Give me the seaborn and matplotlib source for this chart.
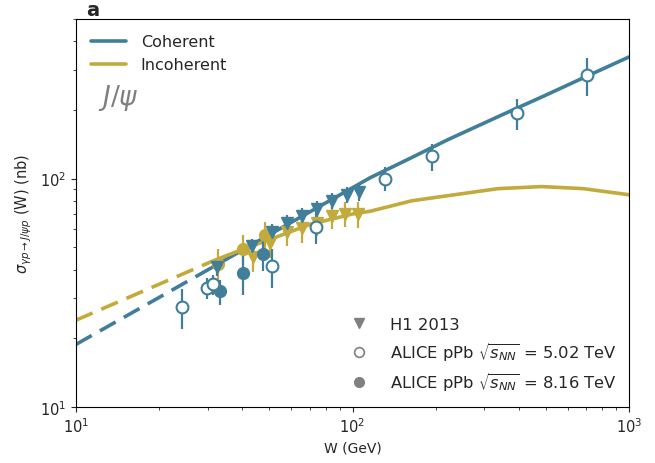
import numpy as np
import pandas as pd
import matplotlib
matplotlib.use("Agg")
import matplotlib.pyplot as plt
from matplotlib.lines import Line2D
import seaborn as sns

# ---------------- data ----------------
# model curves (W in GeV, sigma in nb)
coh_W = [10, 20, 31, 50, 75, 116, 160, 221, 350, 500, 700, 1000]
coh_sig = [18.8, 30.2, 40.8, 56.8, 74.9, 101, 122, 148, 191, 232, 280, 341]
inc_W = [10, 20, 31, 40, 50, 70, 100, 116, 164, 336, 484, 682, 1000]
inc_sig = [24, 34.5, 43.4, 49, 54, 63, 70, 72, 80, 90.4, 92.3, 90.4, 85]
W_split = 31  # dashed below, solid above

# H1 2013 coherent (elastic)
h1c_W = [32.4, 43.4, 51.2, 57.9, 65.6, 74.5, 84.4, 95.5, 106]
h1c_sig = [40.9, 50.5, 58.5, 64.2, 68.9, 73.9, 80.2, 85.1, 87.7]
h1c_err = [3.5, 4.0, 4.5, 5.0, 5.5, 6.0, 6.5, 7.0, 7.5]
# H1 2013 incoherent (dissociative)
h1i_W = [43.6, 50.3, 57.9, 65.6, 74.5, 84.4, 94.0, 105]
h1i_sig = [45.6, 52.0, 58.1, 60.5, 64.2, 68.9, 70.3, 69.7]
h1i_err = [6.5, 7.0, 7.5, 8.0, 8.0, 8.5, 9.0, 9.0]
# ALICE pPb 5.02 TeV (open circles)
a5_W = [24.2, 29.8, 31.2, 51.2, 73.8, 131, 194, 394, 705]
a5_sig = [27.4, 33.1, 34.4, 41.3, 61.7, 100, 125, 194, 284]
a5_err = [5.5, 3.5, 3.5, 8.0, 10.0, 12.0, 17.0, 30.0, 55.0]
# ALICE pPb 8.16 TeV coherent (filled circles)
a8c_W = [33.2, 40.2, 47.4]
a8c_sig = [32.1, 38.5, 46.6]
a8c_err = [4.0, 7.5, 7.0]
# ALICE pPb 8.16 TeV incoherent (filled circles)
a8i_W = [32.7, 40.2, 48.3]
a8i_sig = [42.1, 49.4, 56.4]
a8i_err = [7.0, 7.5, 8.0]

legend_curves = ["Coherent", "Incoherent"]
legend_data = ["H1 2013",
               r"ALICE pPb $\sqrt{s_{NN}}$ = 5.02 TeV",
               r"ALICE pPb $\sqrt{s_{NN}}$ = 8.16 TeV"]

# ---------------- style ----------------
sns.set_style("ticks")
plt.rcParams['font.family'] = ['DejaVu Sans']
C_COH = "#417e9a"
C_INC = "#c2aa3c"
GREY = "#808080"

fig = plt.figure(figsize=(6.55, 4.64), dpi=100)
ax = fig.add_axes([76/655, 1-408/464, (629-76)/655, (408-20)/464])

def split(W, s):
    W = np.asarray(W, float); s = np.asarray(s, float)
    lo = W <= W_split
    hi = W >= W_split
    return (pd.DataFrame({"W": W[lo], "s": s[lo]}),
            pd.DataFrame({"W": W[hi], "s": s[hi]}))

for W, s, c in [(coh_W, coh_sig, C_COH), (inc_W, inc_sig, C_INC)]:
    lo, hi = split(W, s)
    sns.lineplot(data=lo, x="W", y="s", ax=ax, color=c, lw=2.6,
                 linestyle=(0, (5, 2.6)), sort=False, estimator=None)
    sns.lineplot(data=hi, x="W", y="s", ax=ax, color=c, lw=2.6,
                 sort=False, estimator=None)

eb = dict(ls="none", elinewidth=1.6, capsize=0)
ax.errorbar(h1i_W, h1i_sig, yerr=h1i_err, fmt="v", color=C_INC, ms=8, **eb)
ax.errorbar(a8i_W, a8i_sig, yerr=a8i_err, fmt="o", color=C_INC, ms=8.5, **eb)
ax.errorbar(h1c_W, h1c_sig, yerr=h1c_err, fmt="v", color=C_COH, ms=8, **eb)
ax.errorbar(a8c_W, a8c_sig, yerr=a8c_err, fmt="o", color=C_COH, ms=8.5, **eb)
ax.errorbar(a5_W, a5_sig, yerr=a5_err, fmt="o", color=C_COH, mfc="white",
            mec=C_COH, mew=1.5, ms=8.5, **eb)

ax.set_xscale("log")
ax.set_yscale("log")
ax.set_xlim(10, 1000)
ax.set_ylim(10, 500)
ax.set_xlabel("W (GeV)", fontsize=10)
ax.set_ylabel(r"$\sigma_{\gamma p \rightarrow J/\psi p}$ (W) (nb)", fontsize=10.5)
ax.tick_params(labelsize=10.5)
for sp in ax.spines.values():
    sp.set_visible(True)
    sp.set_color("black")

h_curves = [Line2D([], [], color=C_COH, lw=2.6), Line2D([], [], color=C_INC, lw=2.6)]
leg1 = ax.legend(h_curves, legend_curves, loc="upper left", frameon=False,
                 fontsize=11.5, handlelength=2.2, borderaxespad=0.55,
                 labelspacing=0.5, handletextpad=0.9)
ax.add_artist(leg1)

h_data = [Line2D([], [], ls="none", marker="v", color=GREY, ms=7.5),
          Line2D([], [], ls="none", marker="o", mfc="white", mec=GREY, mew=1.2, ms=7),
          Line2D([], [], ls="none", marker="o", color=GREY, ms=7)]
ax.legend(h_data, legend_data, loc="lower right", frameon=False, fontsize=11.8,
          labelspacing=0.5, borderaxespad=0.45, handletextpad=0.9,
          bbox_to_anchor=(1.003, 0.0))

ax.text(0.04, 0.80, r"$J/\psi$", transform=ax.transAxes, fontsize=19,
        color="#7f7f7f", va="center", ha="left")
fig.text(86/655, 1-11/464, "a", fontsize=14, fontweight="bold", va="center", ha="left")

fig.savefig("out.png", dpi=100)
